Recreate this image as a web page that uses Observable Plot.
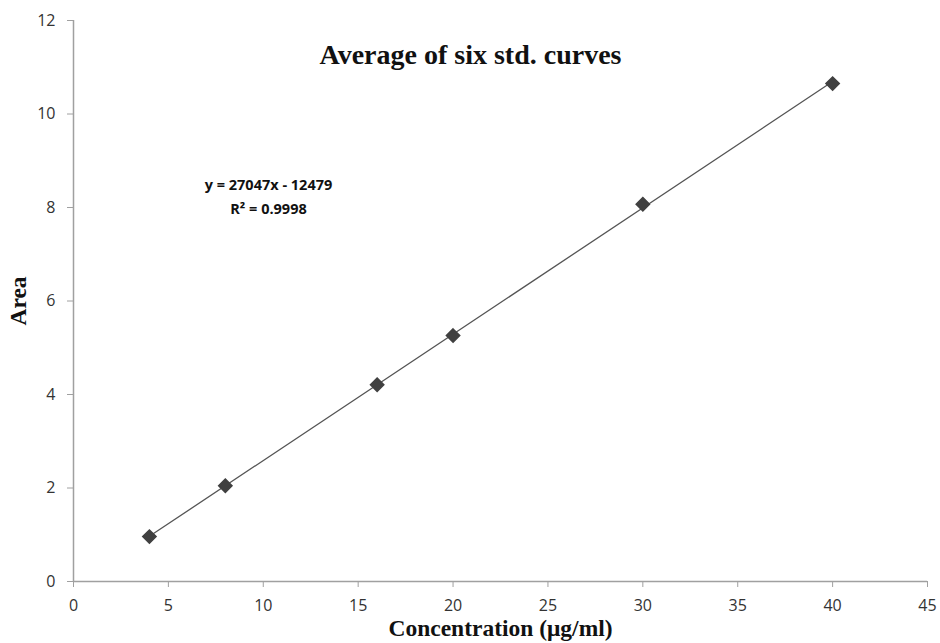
<!DOCTYPE html>
<html>
<head>
<meta charset="utf-8">
<script src="https://cdn.jsdelivr.net/npm/d3@7"></script>
<script src="https://cdn.jsdelivr.net/npm/@observablehq/plot@0.6"></script>
<style>
  html, body { margin: 0; padding: 0; background: #fff; }
  #chart svg { display: block; }
  g[aria-label="x-axis label"] text, g[aria-label="y-axis label"] text {
    font-family: "Liberation Serif", "Times New Roman", serif;
    font-weight: bold;
    font-size: 23.5px;
    fill: #111;
  }
</style>
</head>
<body>
<div id="chart"></div>
<script>
const concentration = [4, 8, 16, 20, 30, 40];
const area = [0.96, 2.05, 4.21, 5.26, 8.07, 10.65];
const xTicks = [0, 5, 10, 15, 20, 25, 30, 35, 40, 45];
const yTicks = [0, 2, 4, 6, 8, 10, 12];
const titleText = ["Average of six std. curves"];
const equationLines = ["y = 27047x - 12479", "R² = 0.9998"];

const data = concentration.map((c, i) => ({x: c, y: area[i]}));

const chart = Plot.plot({
  width: 940,
  height: 643,
  marginLeft: 73,
  marginRight: 13,
  marginTop: 20,
  marginBottom: 62,
  style: {fontFamily: "'Open Sans', sans-serif", fontSize: "16px", color: "#333", background: "#fff"},
  x: {domain: [0, 45]},
  y: {domain: [0, 12]},
  marks: [
    Plot.ruleY([0], {stroke: "#a0a0a0", strokeWidth: 1.5}),
    Plot.ruleX([0], {stroke: "#a0a0a0", strokeWidth: 1.5}),
    Plot.axisX({ticks: xTicks, tickSize: 6, tickPadding: 12, stroke: "#a0a0a0",
      label: "Concentration (μg/ml)", labelAnchor: "center", labelArrow: "none", labelOffset: 54,
      fill: "#333", fontSize: 16}),
    Plot.axisY({ticks: yTicks, tickSize: 6, tickPadding: 12, stroke: "#a0a0a0",
      label: "Area", labelAnchor: "center", labelArrow: "none", labelOffset: 64,
      fill: "#333", fontSize: 16}),
    Plot.linearRegressionY(data, {x: "x", y: "y", ci: 0, stroke: "#555", strokeWidth: 1.3}),
    Plot.dot(data, {x: "x", y: "y", symbol: "diamond2", r: 6, fill: "#404040", stroke: "#404040"}),
    Plot.text(titleText, {text: d => d, frameAnchor: "top", lineAnchor: "middle", dx: -30, dy: 35,
      fontFamily: "'Liberation Serif', 'Times New Roman', serif", fontWeight: "bold", fontSize: 28, fill: "#111"}),
    Plot.text(equationLines, {text: d => d, frameAnchor: "top-left", textAnchor: "middle",
      fontWeight: "bold", fontSize: 14.5, fill: "#111"})
  ]
});
document.getElementById("chart").appendChild(chart);

// place the two equation lines one under the other
const eqTexts = chart.querySelectorAll('g[aria-label="text"]')[1].querySelectorAll("text");
eqTexts.forEach((t, i) => t.setAttribute("transform", `translate(${268},${179 + i * 24})`));
</script>
</body>
</html>
